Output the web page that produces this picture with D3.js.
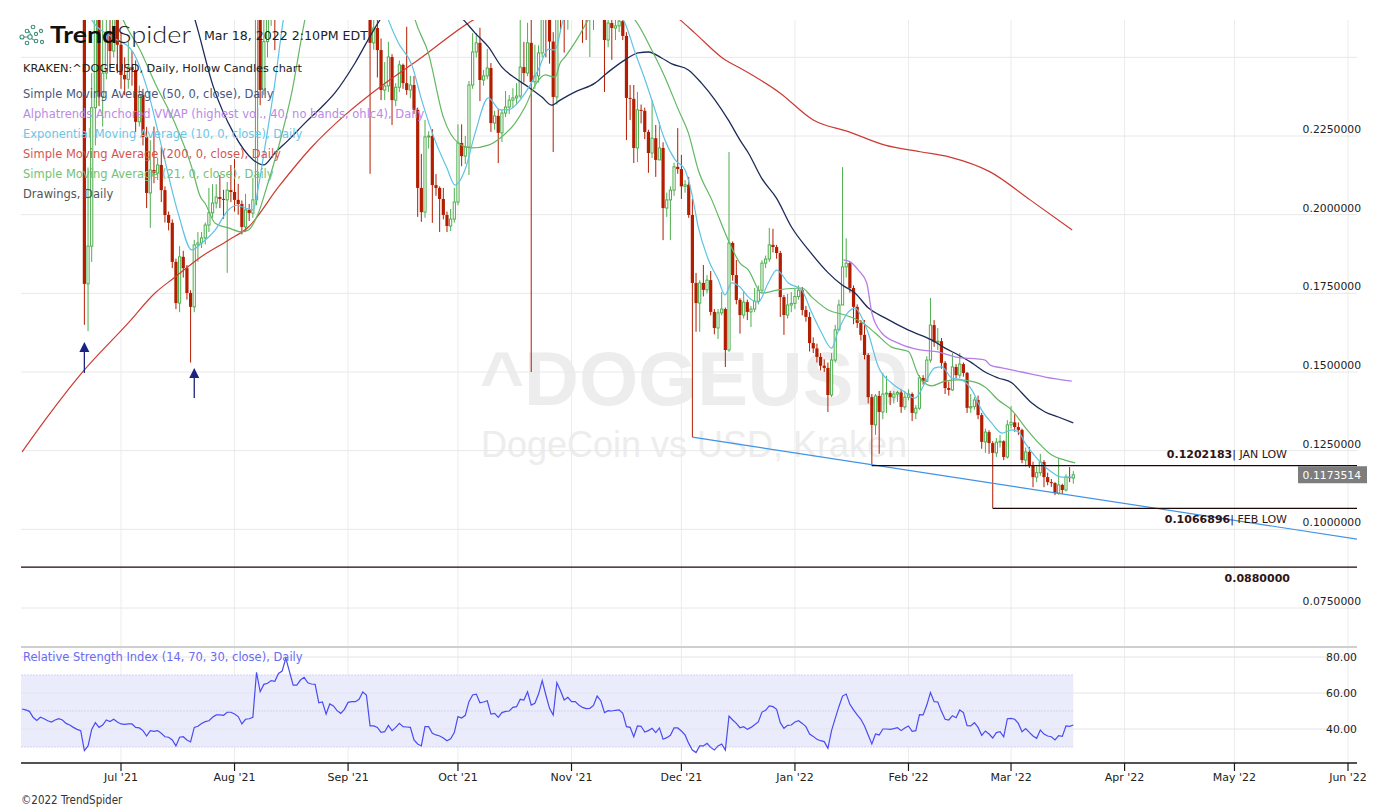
<!DOCTYPE html>
<html><head><meta charset="utf-8">
<script src="https://cdn.jsdelivr.net/npm/d3@7"></script>
<style>body{margin:0;background:#fff;overflow:hidden}svg{display:block}</style>
</head><body><svg id="c" width="1387" height="809"></svg>
<script>
// ---------------- DATA ----------------
const startDate = "2021-06-04";
const firstOpen = 0.400;
const closes = [0.372,0.355,0.367,0.337,0.330,0.334,0.316,0.320,0.313,0.334,
0.330,0.319,0.298,0.302,0.287,0.285,0.288,0.178,0.190,0.234,
0.265,0.2375,0.245,0.258,0.252,0.262,0.254,0.2444,0.243,0.2469,
0.2460,0.2295,0.2380,0.2247,0.2069,0.2142,0.2132,0.2158,0.2078,0.1999,
0.1974,0.1850,0.1719,0.1866,0.1830,0.1751,0.1707,0.1904,0.1910,0.1926,
0.1967,0.2006,0.2037,0.2056,0.2050,0.2047,0.2078,0.2072,0.2047,0.2034,
0.1961,0.2015,0.2005,0.2047,0.2750,0.2396,0.2550,0.2620,0.2720,0.2650,
0.2850,0.2950,0.3350,0.3100,0.2900,0.2950,0.3050,0.3100,0.3000,0.2980,
0.2970,0.2850,0.2860,0.2750,0.2880,0.2850,0.2800,0.2760,0.2800,0.2880,
0.2900,0.2900,0.2930,0.3050,0.3000,0.2546,0.2593,0.2523,0.2396,0.2409,
0.2501,0.2364,0.2405,0.2476,0.2418,0.2396,0.2412,0.2333,0.2085,0.2008,
0.2247,0.2250,0.2094,0.2085,0.2050,0.1999,0.1964,0.1986,0.2040,0.2228,
0.2186,0.2215,0.2412,0.2517,0.2546,0.2428,0.2441,0.2466,0.2291,0.2314,
0.2260,0.2323,0.2342,0.2364,0.2371,0.2377,0.2469,0.2450,0.2546,0.2422,
0.2441,0.2514,0.2700,0.2620,0.2550,0.2374,0.2750,0.2680,0.2620,0.2650,
0.2720,0.2700,0.2680,0.2650,0.2640,0.2660,0.2700,0.2850,0.2750,0.2555,
0.2609,0.2593,0.2600,0.2615,0.2568,0.2371,0.2368,0.2212,0.2333,0.2330,
0.2263,0.2196,0.2243,0.2174,0.2212,0.2021,0.2047,0.2078,0.2152,0.2145,
0.2090,0.2095,0.1999,0.1783,0.1719,0.1783,0.1761,0.1792,0.1691,0.1640,
0.1688,0.1700,0.1570,0.1910,0.1808,0.1729,0.1681,0.1722,0.1691,0.1700,
0.1725,0.1760,0.1846,0.1859,0.1904,0.1897,0.1878,0.1738,0.1681,0.1713,
0.1718,0.1740,0.1760,0.1697,0.1675,0.1592,0.1575,0.1548,0.1520,0.1513,
0.1427,0.1538,0.1634,0.1713,0.1834,0.1846,0.1767,0.1707,0.1656,0.1618,
0.1554,0.1420,0.1332,0.1424,0.1373,0.1430,0.1433,0.1420,0.1430,0.1435,
0.1389,0.1420,0.1430,0.1370,0.1385,0.1481,0.1470,0.1538,0.1649,0.1595,
0.1598,0.1529,0.1449,0.1443,0.1516,0.1490,0.1525,0.1497,0.1386,0.1390,
0.1411,0.1363,0.1278,0.1309,0.1274,0.1243,0.1277,0.1280,0.1230,0.1332,
0.1340,0.1325,0.1316,0.1220,0.1246,0.1204,0.1166,0.1180,0.1214,0.1166,
0.1150,0.1147,0.1115,0.1141,0.1125,0.1166,0.1163,0.1173514];
const highs = [0.420,0.385,0.372,0.375,0.340,0.337,0.340,0.325,0.325,0.337,
0.345,0.335,0.320,0.315,0.305,0.300,0.300,0.292,0.215,0.245,
0.275,0.270,0.262,0.270,0.275,0.272,0.268,0.258,0.250,0.255,
0.252,0.249,0.241,0.240,0.2279,0.2237,0.228,0.218,0.2215,0.209,
0.201,0.1985,0.186,0.190,0.1885,0.184,0.176,0.192,0.1945,0.1945,
0.1975,0.2085,0.2097,0.2097,0.2126,0.2079,0.2104,0.2158,0.2177,0.2098,
0.2045,0.2066,0.2034,0.2117,0.290,0.280,0.262,0.270,0.280,0.278,
0.290,0.305,0.345,0.340,0.315,0.305,0.315,0.320,0.315,0.305,
0.305,0.300,0.295,0.288,0.292,0.290,0.288,0.285,0.285,0.292,
0.295,0.295,0.298,0.310,0.310,0.302,0.264,0.262,0.256,0.2485,
0.2549,0.2510,0.2418,0.2490,0.2480,0.2597,0.2441,0.2441,0.2340,0.2193,
0.2301,0.2265,0.2272,0.2129,0.2090,0.2085,0.2010,0.2018,0.2085,0.2287,
0.2287,0.2250,0.2425,0.2577,0.2577,0.2594,0.2460,0.2527,0.2482,0.2330,
0.2335,0.2333,0.2393,0.2380,0.2402,0.2418,0.2620,0.2549,0.2610,0.2619,
0.2540,0.2538,0.2800,0.2750,0.2680,0.2580,0.3100,0.2850,0.2720,0.2720,
0.2800,0.2780,0.2750,0.2720,0.2700,0.2700,0.2750,0.2950,0.2880,0.2780,
0.2620,0.2640,0.2630,0.2660,0.2650,0.2580,0.2412,0.2412,0.2390,0.2350,
0.2340,0.2270,0.2364,0.2285,0.2295,0.2230,0.2070,0.2090,0.2165,0.2275,
0.2190,0.2110,0.2120,0.2050,0.1815,0.1792,0.1840,0.1808,0.1821,0.1700,
0.1700,0.1754,0.1705,0.2199,0.1915,0.1856,0.1735,0.1754,0.1730,0.1710,
0.1767,0.1775,0.1855,0.1870,0.1958,0.1955,0.1904,0.1885,0.1745,0.1748,
0.1754,0.1765,0.1775,0.1770,0.1710,0.1690,0.1610,0.1590,0.1560,0.1540,
0.1530,0.1560,0.1650,0.1730,0.2151,0.1925,0.1850,0.1775,0.1715,0.1665,
0.1665,0.1560,0.1430,0.1430,0.1440,0.1497,0.1488,0.1440,0.1440,0.1440,
0.1445,0.1440,0.1445,0.1435,0.1395,0.1490,0.1490,0.1550,0.1735,0.1665,
0.1640,0.1608,0.1535,0.1470,0.1560,0.1525,0.1560,0.1530,0.1500,0.1430,
0.1420,0.1425,0.1370,0.1320,0.1315,0.1280,0.1290,0.1300,0.1283,0.1347,
0.1392,0.1366,0.1340,0.1320,0.1260,0.1262,0.1215,0.1200,0.1240,0.1220,
0.1180,0.1160,0.1150,0.1226,0.1145,0.1175,0.1198,0.1185];
const lows = [0.360,0.345,0.350,0.335,0.305,0.305,0.310,0.305,0.300,0.305,
0.320,0.315,0.292,0.295,0.275,0.270,0.268,0.165,0.163,0.185,
0.222,0.2345,0.228,0.243,0.247,0.250,0.245,0.240,0.238,0.240,
0.241,0.2263,0.228,0.222,0.2021,0.1958,0.210,0.211,0.204,0.1975,
0.195,0.183,0.170,0.169,0.180,0.173,0.153,0.169,0.185,0.1894,
0.1905,0.1945,0.199,0.202,0.2021,0.1987,0.1815,0.204,0.201,0.200,
0.1937,0.1945,0.198,0.199,0.203,0.2348,0.238,0.250,0.260,0.2523,
0.265,0.280,0.290,0.300,0.280,0.280,0.290,0.295,0.295,0.290,
0.290,0.275,0.278,0.268,0.272,0.278,0.272,0.270,0.270,0.275,
0.282,0.283,0.286,0.290,0.292,0.213,0.2524,0.2436,0.2364,0.2364,
0.239,0.2285,0.2345,0.239,0.240,0.2381,0.237,0.232,0.1993,0.1977,
0.199,0.221,0.1974,0.206,0.1945,0.1985,0.1945,0.1948,0.1975,0.203,
0.2154,0.2161,0.2126,0.240,0.250,0.2361,0.241,0.243,0.2263,0.227,
0.2164,0.2231,0.231,0.232,0.234,0.235,0.237,0.242,0.244,0.150,
0.240,0.242,0.250,0.250,0.248,0.2199,0.235,0.258,0.2515,0.2588,
0.263,0.263,0.263,0.2546,0.2555,0.2501,0.2587,0.268,0.265,0.239,
0.2532,0.2492,0.2555,0.258,0.2555,0.2237,0.2301,0.2164,0.2167,0.229,
0.224,0.2133,0.218,0.212,0.218,0.1919,0.1993,0.1919,0.206,0.213,
0.205,0.207,0.199,0.1293,0.1628,0.1628,0.174,0.175,0.168,0.162,
0.1605,0.168,0.1516,0.1564,0.179,0.1715,0.1622,0.167,0.1665,0.1643,
0.169,0.1715,0.175,0.183,0.185,0.188,0.186,0.1675,0.1618,0.167,
0.169,0.170,0.173,0.168,0.166,0.1565,0.156,0.153,0.1505,0.150,
0.1373,0.142,0.153,0.163,0.1713,0.180,0.1752,0.1652,0.164,0.160,
0.154,0.140,0.1202183,0.130,0.124,0.135,0.137,0.1395,0.140,0.1405,
0.137,0.138,0.141,0.1344,0.135,0.138,0.146,0.147,0.153,0.158,
0.157,0.151,0.143,0.1425,0.144,0.148,0.148,0.1485,0.137,0.137,
0.138,0.135,0.1256,0.1243,0.124,0.1066896,0.123,0.126,0.122,0.1225,
0.132,0.131,0.130,0.121,0.120,0.1195,0.1134,0.115,0.117,0.1134,
0.114,0.1135,0.1109,0.111,0.1112,0.112,0.115,0.1145];
const rsiVals = [51.1,50.6,49.8,46.5,44.8,46.5,45.7,44.6,43.9,45.0,
45.7,45.0,43.1,42.2,40.9,39.8,39.1,28.0,30.6,39.8,
43.5,40.9,42.2,45.0,44.1,45.4,43.9,42.8,42.6,42.8,
42.8,40.9,40.6,39.1,36.1,39.1,38.7,39.1,37.6,35.7,
35.4,33.9,30.6,35.4,35.7,33.9,32.8,40.9,41.5,43.1,
44.1,44.6,46.5,47.8,47.8,47.6,49.3,49.3,48.3,46.9,
42.8,45.4,45.7,46.5,71.5,60.7,64.8,65.4,66.9,66.5,
70.9,72.2,79.3,71.9,64.4,64.4,67.2,68.7,65.7,65.0,
64.8,54.6,55.0,48.3,53.9,52.8,50.2,48.7,50.9,54.8,
55.2,55.2,56.5,60.6,58.9,41.7,41.7,40.9,38.1,38.5,
42.0,39.1,40.9,43.1,41.3,41.1,40.9,33.9,31.7,30.6,
41.3,41.3,37.6,36.7,36.1,35.0,33.5,34.6,38.0,46.9,
46.1,47.6,55.2,58.9,59.4,54.6,55.0,55.7,48.3,48.7,
46.5,49.1,49.8,50.0,52.0,52.4,56.5,56.1,60.7,53.3,
54.3,59.4,66.9,58.9,51.5,47.8,65.7,61.3,56.1,57.6,
55.2,55.2,53.3,52.0,51.3,51.5,53.1,58.3,55.7,49.1,
50.2,50.0,50.4,50.6,48.7,41.3,40.9,35.7,41.7,41.5,
38.3,39.1,40.4,38.0,40.6,34.3,35.2,36.5,40.6,40.6,
38.9,36.7,32.0,28.3,26.9,30.6,30.6,32.0,29.8,28.3,
30.6,31.7,28.3,47.2,45.0,43.1,40.7,41.3,39.8,40.9,
42.4,43.9,49.4,50.4,52.8,52.4,50.9,43.5,40.4,42.0,
42.2,43.9,44.6,43.1,41.3,37.2,35.9,34.3,33.5,33.0,
29.3,39.1,45.9,52.4,58.3,59.4,53.7,50.6,47.8,45.4,
41.7,36.7,31.7,37.2,36.7,40.0,40.0,39.8,40.2,40.7,
39.1,40.6,41.7,38.7,39.1,48.0,47.8,53.3,60.2,55.2,
55.0,49.8,45.4,45.0,47.4,46.3,50.6,49.1,41.9,41.7,
43.5,40.9,36.5,38.9,37.2,35.0,38.0,38.5,35.7,45.7,
45.9,45.4,43.1,38.5,40.2,38.1,36.1,34.8,39.4,37.2,
36.1,35.7,33.9,36.3,35.9,41.7,41.5,42.2];
// moving averages: [day index from startDate, value]
const sma50 = [[0,0.345],[15,0.32],[30,0.305],[40,0.285],[47.2,0.2619],[52.2,0.2407],[57.7,0.2260],[63.1,0.2174],[65.9,0.2158],[69,0.2196],[72.7,0.2237],[77.2,0.2291],[81.8,0.2342],[85.4,0.2387],[90.9,0.2482],[95.5,0.2577],[97.7,0.2619],[109,0.272],[120.5,0.2619],[123.7,0.2577],[127.3,0.2533],[131,0.2469],[134.6,0.2434],[138.2,0.2406],[141.9,0.2374],[144.6,0.2348],[146.9,0.2364],[151,0.2390],[156.4,0.2418],[160,0.2453],[164.6,0.2492],[168.2,0.2514],[171,0.2517],[174.6,0.2498],[177.4,0.2479],[181.9,0.2460],[185.5,0.2418],[189.2,0.2364],[192.8,0.2301],[196,0.2237],[198.3,0.2196],[201.9,0.2116],[206,0.2052],[210.1,0.1960],[214.7,0.1888],[220.1,0.1815],[223.8,0.1777],[227.4,0.1751],[231,0.1704],[235.6,0.1672],[242,0.1633],[248.3,0.1602],[252,0.1576],[255.6,0.1554],[259.3,0.1529],[262.9,0.1500],[266.5,0.1481],[270.2,0.1466],[272.9,0.1434],[275.6,0.1402],[279.3,0.1373],[282.9,0.1357],[287,0.1338]];
const ema10 = [[0,0.37],[10,0.33],[17,0.29],[19,0.2619],[24.5,0.2565],[29.9,0.2523],[34,0.2406],[38.1,0.2215],[42.6,0.2005],[46.3,0.1888],[49,0.1909],[52.7,0.1951],[56.3,0.2015],[58.6,0.2030],[60.9,0.2021],[63.1,0.2015],[64.5,0.2088],[66.3,0.2215],[69,0.2418],[71.3,0.2619],[80,0.30],[90,0.289],[95,0.283],[100,0.2619],[102.7,0.2546],[106.4,0.2476],[109.1,0.2364],[112.7,0.2237],[115.9,0.2151],[118.2,0.2094],[120.9,0.2142],[123.7,0.2260],[127.3,0.2371],[130.5,0.2333],[132.7,0.2333],[135.5,0.2358],[138.2,0.2402],[140.9,0.2460],[143.7,0.2526],[145.5,0.2523],[148,0.2625],[155,0.266],[162,0.2635],[164.1,0.2619],[167.4,0.2514],[170.1,0.2428],[172.8,0.2333],[175.5,0.2237],[178.3,0.2174],[181,0.2142],[182.8,0.2069],[184.6,0.1961],[187.4,0.1856],[190.1,0.1792],[191.9,0.1745],[193.7,0.1783],[196,0.1770],[198.3,0.1738],[201,0.1722],[203.7,0.1783],[206,0.1824],[209.2,0.1783],[212.8,0.1761],[215.6,0.1688],[218.3,0.1624],[221,0.1576],[222.9,0.1633],[225.6,0.1691],[227.4,0.1703],[229.2,0.1675],[231,0.1624],[233.8,0.1516],[237.4,0.1465],[241,0.1436],[243.8,0.1417],[246.5,0.1465],[249.2,0.1513],[251.1,0.1516],[253.8,0.1481],[256.5,0.1475],[259.3,0.1443],[262,0.1379],[264.7,0.1338],[267.5,0.1306],[270.2,0.1316],[272,0.1310],[273.8,0.1275],[277.5,0.1220],[281.1,0.1182],[283.8,0.1166],[287,0.1166]];
const sma21 = [[0,0.36],[10,0.33],[20,0.29],[27.6,0.2619],[32.2,0.2523],[36.3,0.2418],[41.7,0.2291],[46.3,0.2151],[48.7,0.2056],[49.9,0.2037],[52.7,0.1973],[56.3,0.1958],[60,0.1945],[61.8,0.1951],[64.5,0.2005],[66.8,0.2088],[70,0.2215],[73.6,0.2387],[77.2,0.2619],[85,0.29],[95,0.292],[105,0.273],[107.3,0.2619],[110.9,0.2514],[115,0.2310],[119.1,0.2228],[122.8,0.2212],[127.3,0.2221],[130.9,0.2247],[134.6,0.2291],[137.3,0.2342],[140.1,0.2412],[142.8,0.2444],[145.5,0.2437],[146.9,0.2482],[148.2,0.2501],[151.9,0.2565],[154.6,0.2619],[160,0.267],[167.3,0.2619],[171.9,0.2523],[175.5,0.2437],[179.2,0.2333],[181.9,0.2260],[184.6,0.2142],[188.3,0.2047],[192.8,0.1919],[196,0.1846],[198.3,0.1824],[201.9,0.1751],[206.5,0.1761],[212.9,0.1767],[215.6,0.1738],[220.1,0.1697],[224.7,0.1681],[229.2,0.1659],[232.9,0.1624],[237.4,0.1579],[242,0.1565],[244.7,0.1490],[248.3,0.1456],[252,0.1471],[255.6,0.1475],[260.2,0.1468],[262.9,0.1452],[266.5,0.1411],[270.2,0.1379],[273.8,0.1325],[277.5,0.1275],[281.1,0.1236],[284.7,0.1220],[287.5,0.1211]];
const sma200 = [[0,0.1246],[6.7,0.1354],[16.3,0.1497],[29,0.1656],[36.3,0.1751],[41.8,0.1802],[48.7,0.1865],[56.3,0.1919],[61.8,0.1961],[70,0.2088],[79.1,0.2215],[88.2,0.2317],[97.7,0.2406],[108.2,0.2492],[123.2,0.2619],[140,0.270],[152,0.2725],[165,0.270],[179.6,0.2619],[183.7,0.2577],[191.9,0.2492],[196,0.2466],[206.9,0.2387],[216,0.2301],[225.6,0.2264],[235.6,0.2221],[245.2,0.2200],[253.3,0.2183],[264.3,0.2136],[275.2,0.2047],[286.7,0.1951]];
const vwap = [[224.2,0.1856],[226.1,0.1850],[228.3,0.1824],[230.6,0.1783],[232,0.1688],[234.7,0.1624],[239.2,0.1592],[245.2,0.1570],[250.1,0.1564],[254.7,0.1548],[262.9,0.1538],[264.3,0.1522],[267.5,0.1513],[272.9,0.1500],[279.3,0.1484],[286.6,0.1471]];
const priceTicks = [0.075,0.1,0.125,0.15,0.175,0.2,0.225,0.25];
const priceTickLabels = ["0.0750000","0.1000000","0.1250000","0.1500000","0.1750000","0.2000000","0.2250000",""];
const rsiTicks = [80,60,40];
const rsiTickLabels = ["80.00","60.00","40.00"];
const rsiBands = [70,50,30];
const monthTicks = ["2021-07-01","2021-08-01","2021-09-01","2021-10-01","2021-11-01","2021-12-01","2022-01-01","2022-02-01","2022-03-01","2022-04-01","2022-05-01","2022-06-01"];
const monthLabels = ["Jul '21","Aug '21","Sep '21","Oct '21","Nov '21","Dec '21","Jan '22","Feb '22","Mar '22","Apr '22","May '22","Jun '22"];
const levelValues = [0.1202183,0.1066896,0.0880000];
const levelNames = ["JAN LOW","FEB LOW",""];
const levelStartDay = [232,265,null];
const trendline = [[183,0.1293],[365,0.0968]];
const arrowDays = [17,47];
const arrowTips = [0.1595,0.1513];
const arrowTails = [0.1497,0.1417];
const legendItems = ["Simple Moving Average (50, 0, close), Daily","Alphatrends Anchored VWAP (highest vol., 40, no bands, ohlc4), Daily","Exponential Moving Average (10, 0, close), Daily","Simple Moving Average (200, 0, close), Daily","Simple Moving Average (21, 0, close), Daily","Drawings, Daily"];
const legendColors = ["#4a5680","#b98ae6","#6cc6e6","#d4554f","#74c274","#555555"];

// ---------------- CHART ----------------
const svg = d3.select("#c");
const L = 21, R = 1357, mainTop = 20, mainBot = 646, rsiTop = 648, axisY = 763;
const FONT = "'DejaVu Sans', Verdana, sans-serif";
const start = new Date(startDate + "T00:00:00Z");
const dayDate = i => new Date(start.getTime() + i * 864e5);
const x = d3.scaleUtc().domain([new Date("2021-07-01T00:00:00Z"), new Date("2022-06-01T00:00:00Z")]).range([121, 1348]);
const y = d3.scaleLinear().domain([0.075, 0.225]).range([608, 136]);
const yr = d3.scaleLinear().domain([30, 80]).range([747, 657]);
const GREEN = "#4fae4f", RED = "#b31d00";

const defs = svg.append("defs");
defs.append("clipPath").attr("id","mainClip").append("rect").attr("x",L).attr("y",mainTop).attr("width",R-L).attr("height",mainBot-mainTop);
defs.append("clipPath").attr("id","rsiClip").append("rect").attr("x",L).attr("y",rsiTop).attr("width",R-L).attr("height",axisY-rsiTop);

// watermark
const wm = svg.append("g").attr("font-family","'Liberation Sans', Arial, sans-serif").attr("fill","#ededed").attr("text-anchor","middle");
wm.append("text").attr("x",694).attr("y",405).attr("font-size",76).attr("font-weight","bold").text("^DOGEUSD");
wm.append("text").attr("x",694).attr("y",457).attr("font-size",36).text("DogeCoin vs USD, Kraken");

// grids
const months = monthTicks.map(s => new Date(s + "T00:00:00Z"));
svg.append("g").selectAll("line").data(months).join("line")
  .attr("x1",d=>x(d)).attr("x2",d=>x(d)).attr("y1",mainTop).attr("y2",axisY)
  .attr("stroke","#ececec").attr("stroke-width",1);
svg.append("g").selectAll("line").data(priceTicks).join("line")
  .attr("x1",L).attr("x2",R).attr("y1",d=>y(d)).attr("y2",d=>y(d))
  .attr("stroke","#e8e8e8").attr("stroke-width",1);

// main pane
const main = svg.append("g").attr("clip-path","url(#mainClip)");
const candles = closes.map((c,i)=>{
  const o = i===0 ? firstOpen : closes[i-1];
  const prev = i===0 ? firstOpen : closes[i-1];
  return {d:dayDate(i), o, c, h:Math.max(highs[i],o,c), l:Math.min(lows[i],o,c), up: c>=prev};
});
const cg = main.append("g");
cg.selectAll("line").data(candles).join("line")
  .attr("x1",d=>x(d.d)).attr("x2",d=>x(d.d)).attr("y1",d=>y(d.h)).attr("y2",d=>y(d.l))
  .attr("stroke",d=>d.up?GREEN:RED).attr("stroke-width",1);
cg.selectAll("rect").data(candles).join("rect")
  .attr("x",d=> d.c>=d.o ? x(d.d)-1.1 : x(d.d)-1.6)
  .attr("width",d=> d.c>=d.o ? 2.2 : 3.2)
  .attr("y",d=>y(Math.max(d.o,d.c)))
  .attr("height",d=>Math.max(1,Math.abs(y(d.o)-y(d.c))))
  .attr("fill",d=> d.c>=d.o ? "#ffffff" : (d.up?GREEN:RED))
  .attr("stroke",d=> d.c>=d.o ? (d.up?GREEN:RED) : "none")
  .attr("stroke-width",1);

const maLine = d3.line().x(d=>x(dayDate(d[0]))).y(d=>y(d[1])).curve(d3.curveMonotoneX);
[[sma200,"#cc3b33",1.2],[sma50,"#1d2b58",1.3],[sma21,"#62b862",1.2],[ema10,"#5fc2e4",1.2],[vwap,"#b77ee8",1.3]].forEach(([data,col,w])=>{
  main.append("path").attr("d",maLine(data)).attr("fill","none").attr("stroke",col).attr("stroke-width",w);
});

// drawings
main.append("line").attr("x1",x(dayDate(trendline[0][0]))).attr("y1",y(trendline[0][1]))
  .attr("x2",x(dayDate(trendline[1][0]))).attr("y2",y(trendline[1][1]))
  .attr("stroke","#3f93e6").attr("stroke-width",1.2);
levelValues.forEach((v,k)=>{
  const x1 = levelStartDay[k]===null ? L : x(dayDate(levelStartDay[k]));
  main.append("line").attr("x1",x1).attr("x2",R).attr("y1",y(v)).attr("y2",y(v))
    .attr("stroke","#1c0707").attr("stroke-width",1.3);
});
arrowDays.forEach((dd,k)=>{
  const ax = x(dayDate(dd)), yt = y(arrowTips[k]), yb = y(arrowTails[k]);
  main.append("line").attr("x1",ax).attr("x2",ax).attr("y1",yt+8).attr("y2",yb).attr("stroke","#1b2380").attr("stroke-width",1.3);
  main.append("path").attr("d",`M${ax},${yt}L${ax-5},${yt+10}L${ax+5},${yt+10}Z`).attr("fill","#1b2380");
});

// level labels
const lab = svg.append("g").attr("font-family",FONT).attr("font-size",11).attr("fill","#2e1414").attr("text-anchor","end");
[[0,1287,-7.5],[1,1287,14.5],[2,1290,14.5]].forEach(([k,xx,dy])=>{
  const t = lab.append("text").attr("x",xx).attr("y",y(levelValues[k])+dy);
  t.append("tspan").attr("font-weight","bold").text(levelValues[k].toFixed(7));
  if (levelNames[k]) t.append("tspan").text("| " + levelNames[k]);
});

// price axis labels
svg.append("g").attr("font-family",FONT).attr("font-size",10.8).attr("fill","#222").attr("text-anchor","end")
  .selectAll("text").data(priceTicks.filter((d,i)=>priceTickLabels[i])).join("text")
  .attr("x",1361).attr("y",d=>y(d)-3).text((d)=>priceTickLabels[priceTicks.indexOf(d)]);

// last price box
const lastC = closes[closes.length-1];
svg.append("rect").attr("x",1298).attr("y",y(lastC)-8.5).attr("width",69).attr("height",17).attr("fill","#7d7d7d");
svg.append("text").attr("x",1361).attr("y",y(lastC)+4).attr("text-anchor","end").attr("font-family",FONT).attr("font-size",10.8).attr("fill","#fff").text(lastC.toFixed(7));

// header
const hdr = svg.append("g").attr("font-family",FONT);
const icon = hdr.append("g").attr("fill","none").attr("stroke","#3e8f7c").attr("stroke-width",1.1);
[[22,37,2],[27,31,1.8],[33,27,1.8],[30,37,2.2],[36,34,1.6],[41,31,1.6],[27,43,1.8],[36,41,1.8],[42,42,1.6]].forEach(c=>icon.append("circle").attr("cx",c[0]).attr("cy",c[1]).attr("r",c[2]));
icon.append("path").attr("d","M24,37L28,37M29,31L31,35M32,39L34,40").attr("stroke-width",1);
hdr.append("text").attr("x",50).attr("y",43).attr("font-family","Lato, 'DejaVu Sans', sans-serif").attr("font-size",23).attr("font-weight","bold").attr("fill","#111").attr("textLength",67).attr("lengthAdjust","spacingAndGlyphs").text("Trend");
hdr.append("text").attr("x",117).attr("y",43).attr("font-family","Lato, 'DejaVu Sans', sans-serif").attr("font-size",23).attr("font-weight",300).attr("fill","#222").attr("textLength",74).attr("lengthAdjust","spacingAndGlyphs").text("Spider");
hdr.append("text").attr("x",204).attr("y",39.5).attr("font-size",12.6).attr("fill","#222").text("Mar 18, 2022 2:10PM EDT");
hdr.append("text").attr("x",23).attr("y",72).attr("font-size",11.3).attr("fill","#222").text("KRAKEN:^DOGEUSD, Daily, Hollow Candles chart");
legendItems.forEach((t,k)=>{
  hdr.append("text").attr("x",23).attr("y",97.5+20*k).attr("font-size",11.5).attr("fill",legendColors[k]).text(t);
});

// separator
svg.append("line").attr("x1",L).attr("x2",R).attr("y1",647).attr("y2",647).attr("stroke","#cfcfcf").attr("stroke-width",2);

// RSI pane
const rg = svg.append("g").attr("clip-path","url(#rsiClip)");
const lastX = x(dayDate(closes.length-1));
rg.append("rect").attr("x",L).attr("y",yr(70)).attr("width",lastX-L).attr("height",yr(30)-yr(70)).attr("fill","#eaecfb");
rg.selectAll("line.g").data(rsiTicks).join("line").attr("class","g")
  .attr("x1",L).attr("x2",R).attr("y1",d=>yr(d)).attr("y2",d=>yr(d)).attr("stroke","#e4e4ea").attr("stroke-width",1);
rg.selectAll("line.b").data(rsiBands).join("line").attr("class","b")
  .attr("x1",L).attr("x2",lastX).attr("y1",d=>yr(d)).attr("y2",d=>yr(d)).attr("stroke","#d3d3f3").attr("stroke-width",1).attr("stroke-dasharray","2,1");
rg.append("path").attr("d",d3.line().x((d,i)=>x(dayDate(i))).y(d=>yr(d))(rsiVals))
  .attr("fill","none").attr("stroke","#4b4bf2").attr("stroke-width",1.2);
svg.append("text").attr("x",23).attr("y",661).attr("font-family",FONT).attr("font-size",11.5).attr("fill","#6b6bf2").text("Relative Strength Index (14, 70, 30, close), Daily");
svg.append("g").attr("font-family",FONT).attr("font-size",10.8).attr("fill","#222").attr("text-anchor","end")
  .selectAll("text").data(rsiTicks).join("text").attr("x",1357).attr("y",d=>yr(d)+4).text((d,i)=>rsiTickLabels[i]);

// x axis
svg.append("line").attr("x1",L).attr("x2",R).attr("y1",axisY).attr("y2",axisY).attr("stroke","#1a1a1a").attr("stroke-width",1.5);
const xa = svg.append("g");
xa.selectAll("line").data(months).join("line").attr("x1",d=>x(d)).attr("x2",d=>x(d)).attr("y1",axisY).attr("y2",axisY+8).attr("stroke","#1a1a1a").attr("stroke-width",1.2);
xa.selectAll("text").data(months).join("text").attr("x",d=>x(d)).attr("y",781).attr("text-anchor","middle")
  .attr("font-family",FONT).attr("font-size",11).attr("fill","#222").text((d,i)=>monthLabels[i]);

svg.append("text").attr("x",21).attr("y",804).attr("font-family","'Liberation Sans Narrow','DejaVu Sans Condensed',sans-serif").attr("font-size",11.5).attr("fill","#333").text("\u00a92022 TrendSpider");
</script>
</body></html>
